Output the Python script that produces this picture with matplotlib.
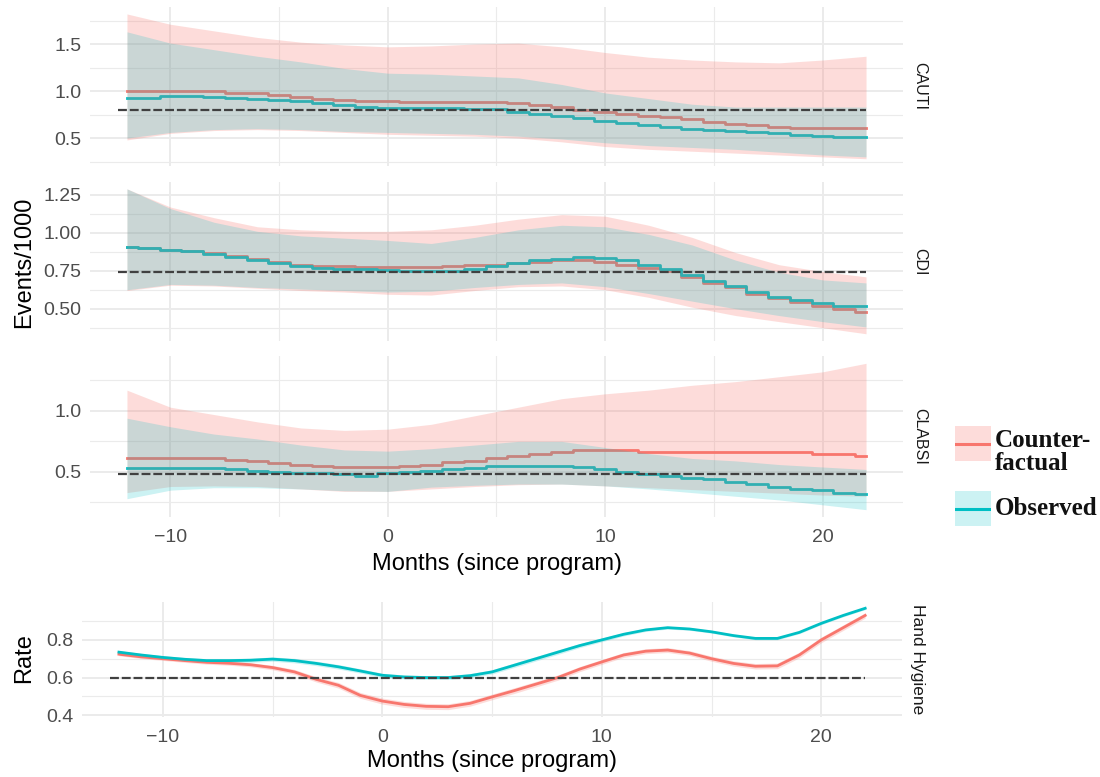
import numpy as np
import matplotlib
matplotlib.use("Agg")
import matplotlib.pyplot as plt
from matplotlib.ticker import FixedLocator, FixedFormatter

# ---------------- data ----------------
months = list(range(-12, 23))            # line values (monthly)
ribbon_months = list(range(-12, 23, 2))  # ribbon bounds (every 2 months)

# CAUTI
cauti_cf = [1.00, 1.00, 1.00, 1.00, 1.00, 0.98, 0.98, 0.96, 0.94, 0.92, 0.91, 0.89, 0.89,
            0.88, 0.88, 0.88, 0.88, 0.88, 0.87, 0.85, 0.83, 0.80, 0.78, 0.76, 0.74, 0.72,
            0.70, 0.67, 0.65, 0.64, 0.62, 0.61, 0.61, 0.61, 0.61]
cauti_obs = [0.93, 0.93, 0.95, 0.95, 0.94, 0.93, 0.92, 0.90, 0.89, 0.87, 0.85, 0.83, 0.82,
             0.82, 0.82, 0.82, 0.81, 0.81, 0.78, 0.76, 0.74, 0.71, 0.68, 0.66, 0.64, 0.62,
             0.60, 0.59, 0.57, 0.56, 0.55, 0.53, 0.52, 0.51, 0.51]
cauti_cf_hi = [1.82, 1.71, 1.64, 1.57, 1.52, 1.49, 1.47, 1.48, 1.50, 1.51, 1.47, 1.41, 1.36,
               1.33, 1.31, 1.30, 1.33, 1.37]
cauti_cf_lo = [0.48, 0.55, 0.58, 0.59, 0.58, 0.56, 0.54, 0.53, 0.52, 0.50, 0.46, 0.41, 0.38,
               0.36, 0.34, 0.32, 0.30, 0.28]
cauti_obs_hi = [1.63, 1.51, 1.44, 1.37, 1.31, 1.24, 1.19, 1.18, 1.16, 1.14, 1.07, 0.98, 0.92,
                0.86, 0.83, 0.83, 0.83, 0.83]
cauti_obs_lo = [0.50, 0.56, 0.59, 0.60, 0.59, 0.57, 0.56, 0.55, 0.54, 0.52, 0.49, 0.45, 0.42,
                0.40, 0.38, 0.35, 0.32, 0.30]
cauti_ref = 0.80

# CDI
cdi_cf = [0.91, 0.90, 0.89, 0.88, 0.865, 0.85, 0.83, 0.81, 0.79, 0.78, 0.78, 0.775, 0.775,
          0.775, 0.775, 0.78, 0.785, 0.79, 0.80, 0.81, 0.82, 0.82, 0.81, 0.79, 0.77, 0.75,
          0.71, 0.67, 0.64, 0.60, 0.57, 0.545, 0.52, 0.50, 0.48]
cdi_obs = [0.91, 0.90, 0.89, 0.88, 0.86, 0.84, 0.82, 0.80, 0.78, 0.77, 0.76, 0.76, 0.755,
           0.75, 0.75, 0.75, 0.76, 0.78, 0.80, 0.82, 0.83, 0.84, 0.835, 0.82, 0.79, 0.76,
           0.72, 0.68, 0.65, 0.61, 0.58, 0.56, 0.535, 0.52, 0.515]
cdi_cf_hi = [1.29, 1.17, 1.10, 1.04, 1.02, 1.01, 1.01, 1.02, 1.05, 1.09, 1.12, 1.11, 1.05,
             0.97, 0.87, 0.79, 0.745, 0.71]
cdi_cf_lo = [0.62, 0.655, 0.65, 0.635, 0.62, 0.61, 0.595, 0.59, 0.62, 0.645, 0.65, 0.625,
             0.575, 0.51, 0.455, 0.415, 0.375, 0.335]
cdi_obs_hi = [1.29, 1.16, 1.07, 1.01, 0.98, 0.965, 0.95, 0.93, 0.97, 1.02, 1.05, 1.04, 0.99,
              0.92, 0.82, 0.74, 0.69, 0.67]
cdi_obs_lo = [0.625, 0.66, 0.655, 0.64, 0.63, 0.62, 0.61, 0.615, 0.64, 0.66, 0.67, 0.645,
              0.60, 0.55, 0.50, 0.455, 0.415, 0.38]
cdi_ref = 0.74

# CLABSI
clabsi_cf = [0.61, 0.61, 0.61, 0.61, 0.61, 0.60, 0.59, 0.57, 0.56, 0.55, 0.54, 0.54, 0.54,
             0.545, 0.56, 0.58, 0.59, 0.61, 0.63, 0.65, 0.66, 0.68, 0.68, 0.68, 0.66, 0.66,
             0.66, 0.66, 0.66, 0.66, 0.66, 0.66, 0.645, 0.645, 0.63]
clabsi_obs = [0.53, 0.53, 0.53, 0.53, 0.53, 0.52, 0.51, 0.50, 0.49, 0.49, 0.48, 0.47, 0.49,
              0.50, 0.51, 0.52, 0.53, 0.55, 0.55, 0.55, 0.55, 0.54, 0.52, 0.50, 0.48, 0.47,
              0.45, 0.44, 0.42, 0.40, 0.38, 0.36, 0.35, 0.33, 0.32]
clabsi_cf_hi = [1.17, 1.03, 0.97, 0.91, 0.86, 0.84, 0.85, 0.89, 0.96, 1.03, 1.10, 1.14, 1.17,
                1.21, 1.24, 1.28, 1.32, 1.39]
clabsi_cf_lo = [0.33, 0.38, 0.385, 0.38, 0.36, 0.34, 0.34, 0.36, 0.38, 0.395, 0.40, 0.385,
                0.37, 0.355, 0.34, 0.325, 0.31, 0.30]
clabsi_obs_hi = [0.94, 0.87, 0.81, 0.77, 0.72, 0.68, 0.67, 0.69, 0.72, 0.75, 0.75, 0.70, 0.65,
                 0.61, 0.59, 0.56, 0.54, 0.52]
clabsi_obs_lo = [0.28, 0.35, 0.37, 0.37, 0.36, 0.345, 0.34, 0.375, 0.39, 0.40, 0.40, 0.385,
                 0.36, 0.33, 0.30, 0.27, 0.23, 0.19]
clabsi_ref = 0.485

# Hand Hygiene
hh_cf = [0.724, 0.71, 0.70, 0.69, 0.681, 0.676, 0.668, 0.653, 0.63, 0.59, 0.559, 0.505, 0.475,
         0.457, 0.447, 0.445, 0.463, 0.497, 0.53, 0.565, 0.60, 0.645, 0.683, 0.72, 0.74, 0.746,
         0.73, 0.70, 0.675, 0.66, 0.662, 0.72, 0.80, 0.865, 0.93]
hh_obs = [0.735, 0.72, 0.707, 0.697, 0.69, 0.69, 0.692, 0.698, 0.69, 0.675, 0.657, 0.635,
          0.612, 0.603, 0.60, 0.60, 0.61, 0.63, 0.665, 0.70, 0.735, 0.77, 0.80, 0.83, 0.853,
          0.865, 0.858, 0.843, 0.823, 0.808, 0.808, 0.84, 0.888, 0.93, 0.968]
hh_cf_halfwidth = [0.008, 0.009, 0.010, 0.011, 0.013, 0.015, 0.016, 0.016, 0.015, 0.015,
                   0.014, 0.013, 0.013, 0.013, 0.014, 0.015, 0.015, 0.014]
hh_obs_halfwidth = [0.008, 0.009, 0.010, 0.011, 0.012, 0.012, 0.011, 0.010, 0.011, 0.012,
                    0.012, 0.010, 0.008, 0.007, 0.007, 0.007, 0.007, 0.007]
hh_ref = 0.60

panels = ["CAUTI", "CDI", "CLABSI"]
legend_labels = ["Counter-\nfactual", "Observed"]

# ---------------- style ----------------
RED = "#F8766D"
TEAL = "#00BFC4"
GRID = "#EBEBEB"
TICKC = "#4D4D4D"
plt.rcParams["font.family"] = ["Liberation Sans", "DejaVu Sans"]

fig = plt.figure(figsize=(11, 7.77), dpi=100)

x_line = np.array(months, dtype=float)
x_rib = np.array(ribbon_months, dtype=float)


def style_axis(ax, yticks, ylabels, yminor, show_x):
    for s in ax.spines.values():
        s.set_visible(False)
    ax.set_xlim(-13.7, 23.7)
    ax.xaxis.set_major_locator(FixedLocator([-10, 0, 10, 20]))
    ax.xaxis.set_minor_locator(FixedLocator([-5, 5, 15]))
    ax.yaxis.set_major_locator(FixedLocator(yticks))
    ax.yaxis.set_major_formatter(FixedFormatter(ylabels))
    ax.yaxis.set_minor_locator(FixedLocator(yminor))
    ax.grid(which="major", color=GRID, lw=1.4)
    ax.grid(which="minor", color=GRID, lw=0.8)
    ax.set_axisbelow(True)
    ax.tick_params(which="both", length=0, labelsize=14, labelcolor=TICKC, pad=6)
    ax.tick_params(axis="x", pad=9)
    if not show_x:
        ax.tick_params(axis="x", labelbottom=False)


def draw_panel(ax, cf, obs, cf_lo, cf_hi, obs_lo, obs_hi, ref):
    ax.plot(x_line, cf, color=RED, lw=2.0, drawstyle="steps-mid", zorder=2)
    ax.plot(x_line, obs, color=TEAL, lw=2.0, drawstyle="steps-mid", zorder=2)
    ax.fill_between(x_rib, cf_lo, cf_hi, color=RED, alpha=0.25, lw=0, zorder=3)
    ax.fill_between(x_rib, obs_lo, obs_hi, color=TEAL, alpha=0.2, lw=0, zorder=4)
    ax.plot([x_line[0] - 0.4, x_line[-1]], [ref, ref], color="#404040", lw=1.6,
            linestyle=(0, (4, 1.3)), zorder=5)


L, R = 90 / 1100, 903 / 1100
tops = [6.7, 181.6, 356]
bots = [166, 341, 517]

data_top = [
    (cauti_cf, cauti_obs, cauti_cf_lo, cauti_cf_hi, cauti_obs_lo, cauti_obs_hi, cauti_ref,
     [0.5, 1.0, 1.5], ["0.5", "1.0", "1.5"], [0.25, 0.75, 1.25, 1.75]),
    (cdi_cf, cdi_obs, cdi_cf_lo, cdi_cf_hi, cdi_obs_lo, cdi_obs_hi, cdi_ref,
     [0.5, 0.75, 1.0, 1.25], ["0.50", "0.75", "1.00", "1.25"], [0.375, 0.625, 0.875, 1.125]),
    (clabsi_cf, clabsi_obs, clabsi_cf_lo, clabsi_cf_hi, clabsi_obs_lo, clabsi_obs_hi, clabsi_ref,
     [0.5, 1.0], ["0.5", "1.0"], [0.25, 0.75, 1.25]),
]

for i, name in enumerate(panels):
    t, b = tops[i], bots[i]
    ax = fig.add_axes([L, 1 - b / 777, R - L, (b - t) / 777])
    cf, obs, cl, ch, ol, oh, ref, yt, yl, ym = data_top[i]
    draw_panel(ax, cf, obs, cl, ch, ol, oh, ref)
    ax.margins(x=0, y=0.05)
    style_axis(ax, yt, yl, ym, show_x=(i == 2))
    ax.set_xlim(-13.7, 23.7)
    ax.text(1.02, 0.5, name, transform=ax.transAxes, rotation=270, ha="center",
            va="center", fontsize=11.5, color="#1A1A1A")
    if i == 2:
        ax.set_xlabel("Months (since program)", fontsize=17, labelpad=5)

fig.text(24 / 1100, 1 - 262 / 777, "Events/1000", rotation=90, ha="center", va="center",
         fontsize=17)

# Hand hygiene panel
hL, hR = 81.6 / 1100, 902.5 / 1100
ht, hb = 601.7, 716.5
axh = fig.add_axes([hL, 1 - hb / 777, hR - hL, (hb - ht) / 777])
axh.plot(x_line, hh_cf, color=RED, lw=2.0, zorder=3)
axh.plot(x_line, hh_obs, color=TEAL, lw=2.0, zorder=3)
axh.fill_between(x_line, np.array(hh_cf) - np.interp(x_line, x_rib, hh_cf_halfwidth),
                 np.array(hh_cf) + np.interp(x_line, x_rib, hh_cf_halfwidth),
                 color=RED, alpha=0.25, lw=0, zorder=2)
axh.fill_between(x_line, np.array(hh_obs) - np.interp(x_line, x_rib, hh_obs_halfwidth),
                 np.array(hh_obs) + np.interp(x_line, x_rib, hh_obs_halfwidth),
                 color=TEAL, alpha=0.2, lw=0, zorder=2)
axh.plot([x_line[0] - 0.4, x_line[-1]], [hh_ref, hh_ref], color="#404040", lw=1.6,
         linestyle=(0, (4, 1.3)), zorder=5)
axh.set_ylim(0.393, 1.003)
style_axis(axh, [0.4, 0.6, 0.8], ["0.4", "0.6", "0.8"], [0.5, 0.7, 0.9], show_x=True)
axh.set_xlim(-13.7, 23.7)
axh.set_xlabel("Months (since program)", fontsize=17, labelpad=3)
axh.text(1.018, 0.5, "Hand Hygiene", transform=axh.transAxes, rotation=270, ha="center",
         va="center", fontsize=12.5, color="#1A1A1A")
fig.text(24 / 1100, 1 - 658 / 777, "Rate", rotation=90, ha="center", va="center",
         fontsize=17)

# Legend (manual keys)
key_centres = [443.5, 508.5]
text_centres = [452, 508.5]
for k, (col, alpha) in enumerate([(RED, 0.25), (TEAL, 0.2)]):
    yc = key_centres[k]
    kax = fig.add_axes([955 / 1100, 1 - (yc + 17.5) / 777, 36 / 1100, 35 / 777])
    kax.set_xlim(0, 1)
    kax.set_ylim(0, 1)
    kax.axis("off")
    kax.fill_between([0, 1], 0, 1, color=col, alpha=alpha, lw=0)
    kax.plot([0, 1], [0.5, 0.5], color=col, lw=2.2)
    fig.text(995 / 1100, 1 - text_centres[k] / 777, legend_labels[k], ha="left", va="center",
             fontsize=18, fontweight="bold", family=["Liberation Serif", "DejaVu Serif"],
             linespacing=1.05, color="#111111")

fig.savefig("out.png", dpi=100)
